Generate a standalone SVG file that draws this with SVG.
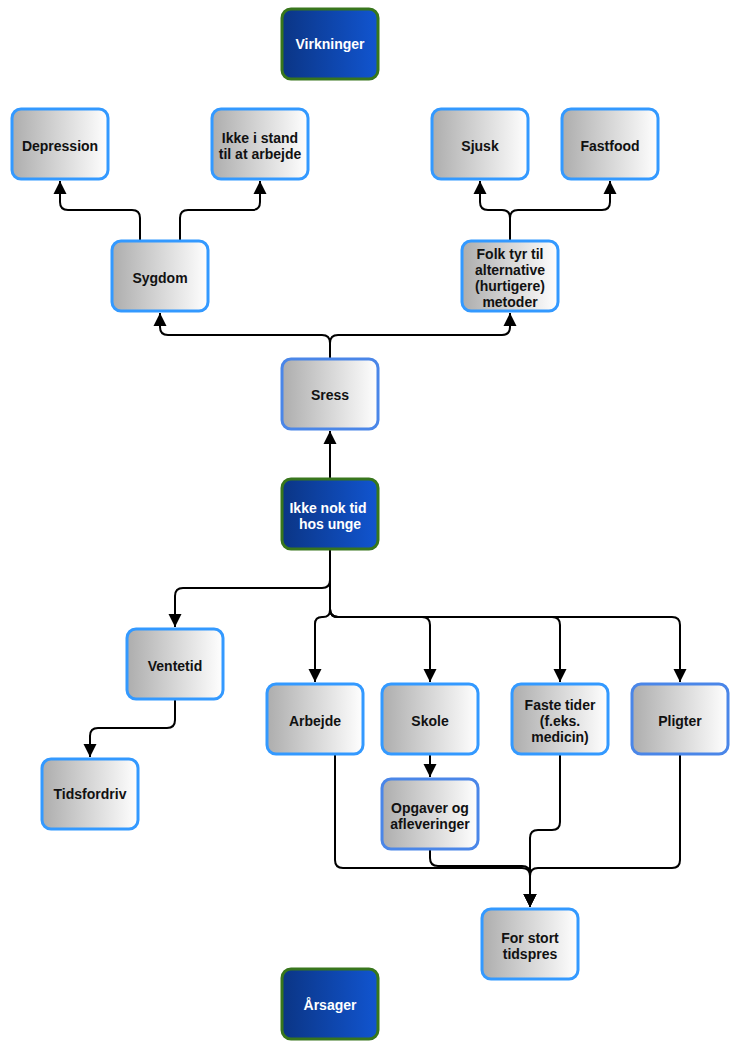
<svg xmlns="http://www.w3.org/2000/svg" width="738" height="1050" viewBox="0 0 738 1050">
<style>
.box{fill:url(#gray);stroke:#3399ff;stroke-width:3}
.box2{fill:url(#gray);stroke:#4a86e8;stroke-width:3}
.dark{fill:url(#blue);stroke:#38761d;stroke-width:3}
.t{font-family:"Liberation Sans",Arial,sans-serif;font-weight:bold;font-size:14px;fill:#111;text-anchor:middle}
.tw{font-family:"Liberation Sans",Arial,sans-serif;font-weight:bold;font-size:14px;fill:#fff;text-anchor:middle}
.c{fill:none;stroke:#000;stroke-width:2;marker-end:url(#arr)}
</style>
<defs>
<linearGradient id="gray" x1="0" y1="0" x2="1" y2="0"><stop offset="0" stop-color="#adadad"/><stop offset="1" stop-color="#ffffff"/></linearGradient>
<linearGradient id="blue" x1="0" y1="0" x2="1" y2="0"><stop offset="0" stop-color="#0b3585"/><stop offset="1" stop-color="#1155d0"/></linearGradient>
<marker id="arr" markerUnits="userSpaceOnUse" markerWidth="16" markerHeight="16" viewBox="0 0 16 16" refX="13" refY="8" orient="auto"><path d="M0 1.5 L13 8 L0 14.5 Z" fill="#000"/></marker>
</defs>
<g id="connectors">
<path class="c" d="M140 240 V218 Q140 210 132 210 H68 Q60 210 60 202 V181"/>
<path class="c" d="M180 240 V218 Q180 210 188 210 H252 Q260 210 260 202 V181"/>
<path class="c" d="M510 240 V218 Q510 210 502 210 H488 Q480 210 480 202 V181"/>
<path class="c" d="M510 240 V218 Q510 210 518 210 H602 Q610 210 610 202 V181"/>
<path class="c" d="M330 358 V343 Q330 335 322 335 H168 Q160 335 160 327 V313"/>
<path class="c" d="M330 358 V343 Q330 335 338 335 H502 Q510 335 510 327 V313"/>
<path class="c" d="M330 478 V431"/>
<path class="c" d="M330 550 V580 Q330 588 322 588 H183 Q175 588 175 596 V627"/>
<path class="c" d="M330 550 V610 Q330 617 323 617 H322 Q315 617 315 624 V682"/>
<path class="c" d="M330 550 V609 Q330 617 338 617 H422 Q430 617 430 625 V682"/>
<path class="c" d="M330 550 V609 Q330 617 338 617 H552 Q560 617 560 625 V682"/>
<path class="c" d="M330 550 V609 Q330 617 338 617 H672 Q680 617 680 625 V682"/>
<path class="c" d="M430 755 V777"/>
<path class="c" d="M175 700 V720 Q175 728 167 728 H98 Q90 728 90 736 V757"/>
<path class="c" d="M335 755 V860 Q335 868 343 868 H522 Q530 868 530 876 V907" stroke="#222"/>
<path class="c" d="M430 850 V858 Q430 866 438 866 H522 Q530 866 530 874 V907" stroke="#222"/>
<path class="c" d="M560 755 V822 Q560 830 552 830 H538 Q530 830 530 838 V907" stroke="#222"/>
<path class="c" d="M680 755 V860 Q680 868 672 868 H538 Q530 868 530 876 V907" stroke="#222"/>
</g>
<g id="virkninger"><rect class="dark" x="282" y="9" width="96" height="70" rx="9"/><text class="tw" x="330" y="49">Virkninger</text></g>
<g id="depression"><rect class="box" x="12" y="109" width="96" height="70" rx="9"/><text class="t" x="60" y="151">Depression</text></g>
<g id="ikke-i-stand"><rect class="box" x="212" y="109" width="96" height="70" rx="9"/><text class="t" x="260" y="143">Ikke i stand</text><text class="t" x="260" y="159">til at arbejde</text></g>
<g id="sjusk"><rect class="box" x="432" y="109" width="96" height="70" rx="9"/><text class="t" x="480" y="151">Sjusk</text></g>
<g id="fastfood"><rect class="box" x="562" y="109" width="96" height="70" rx="9"/><text class="t" x="610" y="151">Fastfood</text></g>
<g id="sygdom"><rect class="box" x="112" y="241" width="96" height="70" rx="9"/><text class="t" x="160" y="283">Sygdom</text></g>
<g id="folk"><rect class="box" x="462" y="241" width="96" height="70" rx="9"/><text class="t" x="510" y="259">Folk tyr til</text><text class="t" x="510" y="275">alternative</text><text class="t" x="510" y="291">(hurtigere)</text><text class="t" x="510" y="307">metoder</text></g>
<g id="sress"><rect class="box2" x="282" y="359" width="96" height="70" rx="9"/><text class="t" x="330" y="400">Sress</text></g>
<g id="ikke-nok-tid"><rect class="dark" x="282" y="479" width="96" height="70" rx="9"/><text class="tw" x="328" y="513">Ikke nok tid</text><text class="tw" x="330" y="529">hos unge</text></g>
<g id="ventetid"><rect class="box" x="127" y="629" width="96" height="70" rx="9"/><text class="t" x="175" y="671">Ventetid</text></g>
<g id="tidsfordriv"><rect class="box" x="42" y="759" width="96" height="70" rx="9"/><text class="t" x="90" y="799">Tidsfordriv</text></g>
<g id="arbejde"><rect class="box" x="267" y="684" width="96" height="70" rx="9"/><text class="t" x="315" y="726">Arbejde</text></g>
<g id="skole"><rect class="box" x="382" y="684" width="96" height="70" rx="9"/><text class="t" x="430" y="726">Skole</text></g>
<g id="faste-tider"><rect class="box" x="512" y="684" width="96" height="70" rx="9"/><text class="t" x="560" y="710">Faste tider</text><text class="t" x="560" y="726">(f.eks.</text><text class="t" x="560" y="742">medicin)</text></g>
<g id="pligter"><rect class="box2" x="632" y="684" width="96" height="70" rx="9"/><text class="t" x="680" y="726">Pligter</text></g>
<g id="opgaver"><rect class="box2" x="382" y="779" width="96" height="70" rx="9"/><text class="t" x="430" y="813">Opgaver og</text><text class="t" x="430" y="829">afleveringer</text></g>
<g id="for-stort"><rect class="box" x="482" y="909" width="96" height="70" rx="9"/><text class="t" x="530" y="943">For stort</text><text class="t" x="530" y="959">tidspres</text></g>
<g id="aarsager"><rect class="dark" x="282" y="969" width="96" height="70" rx="9"/><text class="tw" x="330" y="1010">Årsager</text></g>
</svg>
